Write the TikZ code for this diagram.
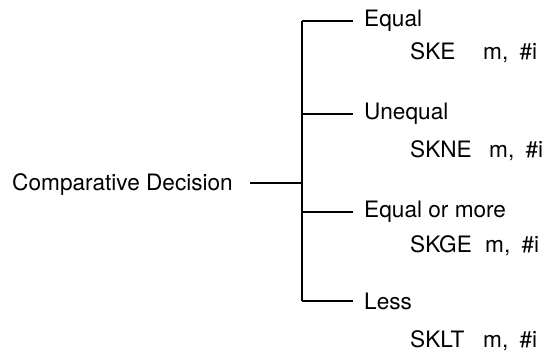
\documentclass[tikz,border=0pt]{standalone}
\usepackage{fontspec}
\setmainfont{TeX Gyre Heros}
\usetikzlibrary{positioning,calc}
\tikzset{
  rootbox/.style={inner sep=0pt,font=\fontsize{22.6}{27}\selectfont},
  casebox/.style={inner sep=0pt,font=\fontsize{22.6}{27}\selectfont},
  opbox/.style={inner sep=0pt,anchor=base west,font=\fontsize{22.6}{27}\selectfont},
  branch/.style={draw=black,line width=1.4pt},
}

\begin{document}
\begin{tikzpicture}[x=1pt,y=-1pt]
  \useasboundingbox (0,0) rectangle (551,358);
  % trunk
  \coordinate (j1) at (302,21);
  \coordinate (j2) at (302,114);
  \coordinate (jr) at (302,183);
  \coordinate (j3) at (302,212);
  \coordinate (j4) at (302,301);
  \draw[branch] (j1) -- (j4);
  % root
  \node[rootbox,anchor=base east] (root) at (233,190) {Comparative Decision};
  \draw[branch] ($(root.east |- jr)+(17pt,0)$) -- (jr);
  % cases
  \draw[branch] (j1) -- ++(51,0) coordinate (e1);
  \node[casebox,right=11pt of e1] (eq) {Equal};
  \draw[branch] (j2) -- ++(51,0) coordinate (e2);
  \node[casebox,right=11pt of e2] (ne) {Unequal};
  \draw[branch] (j3) -- ++(51,0) coordinate (e3);
  \node[casebox,right=11pt of e3] (ge) {Equal or more};
  \draw[branch] (j4) -- ++(51,0) coordinate (e4);
  \node[casebox,right=11pt of e4] (lt) {Less};
  % instructions
  \node[opbox] (ske) at ($(eq.base west)+(46,33)$) {SKE};
  \node[opbox] (skeop) at ($(ske.base west)+(73,0)$) {m,\hspace{0.5em}\#i};
  \node[opbox] (skne) at ($(ne.base west)+(46,38)$) {SKNE};
  \node[opbox] (skneop) at ($(skne.base west)+(79,0)$) {m,\hspace{0.5em}\#i};
  \node[opbox] (skge) at ($(ge.base west)+(46,35)$) {SKGE};
  \node[opbox] (skgeop) at ($(skge.base west)+(75,0)$) {m,\hspace{0.5em}\#i};
  \node[opbox] (sklt) at ($(lt.base west)+(46,38)$) {SKLT};
  \node[opbox] (skltop) at ($(sklt.base west)+(73,0)$) {m,\hspace{0.5em}\#i};
\end{tikzpicture}
\end{document}
